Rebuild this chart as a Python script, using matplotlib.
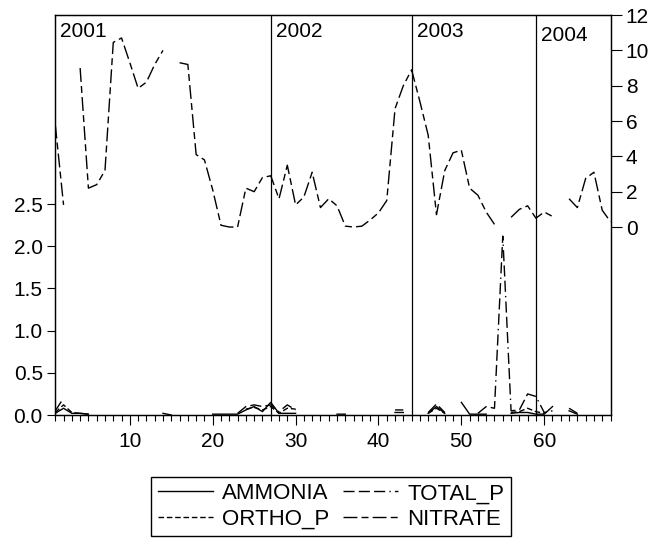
import numpy as np
import matplotlib
matplotlib.use("Agg")
import matplotlib.pyplot as plt
from matplotlib.ticker import MultipleLocator

plt.rcParams["font.family"] = ["Liberation Sans", "DejaVu Sans"]
plt.rcParams["font.size"] = 15

nan = np.nan
obs = np.arange(1, 69)

# values (left axis)
ammonia = [0.02, 0.08, 0.02, 0.02, 0.01, nan, nan, nan, nan, nan,
           nan, nan, nan, 0.02, 0.0, nan, nan, nan, nan, 0.01,
           0.01, 0.01, 0.01, 0.06, 0.10, 0.04, 0.15, 0.02, 0.02, 0.02,
           nan, nan, nan, nan, 0.01, 0.01, nan, nan, 0.01, nan,
           nan, 0.03, 0.03, nan, nan, 0.02, 0.10, 0.02, nan, 0.15,
           0.01, 0.01, 0.01, nan, nan, 0.02, 0.03, 0.03, 0.01, 0.01,
           0.10, nan, 0.05, 0.01, nan, nan, nan, nan]
total_p = [0.05, 0.20, nan, 0.02, 0.01, nan, nan, nan, nan, nan,
           nan, nan, nan, nan, nan, nan, nan, nan, nan, nan,
           nan, nan, 0.02, 0.10, 0.12, 0.10, 0.12, 0.04, 0.12, 0.06,
           nan, nan, nan, nan, nan, nan, nan, nan, nan, nan,
           nan, 0.06, 0.06, nan, nan, 0.03, 0.13, 0.03, nan, nan,
           nan, 0.02, 0.10, 0.08, 2.12, 0.05, 0.06, 0.25, 0.22, 0.03,
           0.05, nan, 0.08, 0.02, nan, nan, nan, nan]
ortho_p = [0.03, 0.12, 0.03, 0.02, nan, nan, nan, nan, nan, nan,
           nan, nan, nan, nan, nan, nan, nan, nan, nan, nan,
           nan, nan, nan, 0.07, 0.09, 0.06, 0.10, 0.02, 0.08, 0.07,
           nan, nan, nan, nan, nan, nan, nan, nan, nan, nan,
           nan, nan, nan, nan, nan, 0.02, 0.08, 0.02, nan, nan,
           nan, nan, 0.05, nan, nan, 0.03, 0.04, 0.08, 0.04, 0.02,
           nan, nan, nan, nan, nan, nan, nan, nan]
# right axis
nitrate = [5.8, 1.25, nan, 9.0, 2.2, 2.4, 3.2, 10.45, 10.7, 9.3,
           7.85, 8.2, 9.2, 10.0, nan, 9.3, 9.2, 4.1, 3.8, 2.1,
           0.1, 0.0, 0.0, 2.2, 2.0, 2.8, 2.9, 1.6, 3.5, 1.25,
           1.7, 3.1, 1.1, 1.6, 1.2, 0.05, 0.0, 0.05, 0.4, 0.8,
           1.5, 6.7, 8.0, 8.9, 7.1, 5.2, 0.7, 3.2, 4.2, 4.35,
           2.2, 1.8, 0.85, 0.15, nan, 0.55, 1.0, 1.2, 0.5, 0.85,
           0.6, nan, 1.6, 1.1, 2.75, 3.1, 0.95, 0.3]

years = ["2001", "2002", "2003", "2004"]
year_start = [1, 27, 44, 59]

fig = plt.figure(figsize=(6.54, 5.42), dpi=100)
ax = fig.add_axes([0.0845, 0.2343, 0.8490, 0.7380])
ax2 = ax.twinx()

l1, = ax.plot(obs, ammonia, color="black", lw=1.0, label="AMMONIA")
l2, = ax.plot(obs, ortho_p, color="black", lw=1.0, ls=(0, (4, 2)), label="ORTHO_P")
l3, = ax.plot(obs, total_p, color="black", lw=1.0, ls=(0, (8, 3, 8, 3, 8, 3, 1, 3)), label="TOTAL_P")
l4, = ax2.plot(obs, nitrate, color="black", lw=1.0, ls=(0, (10, 3, 5, 3)), label="NITRATE")

for i, (yr, s) in enumerate(zip(years, year_start)):
    if i > 0:
        ax.axvline(s, color="black", lw=0.9)
    ax.text(s + 0.6, 0.982 if i < 3 else 0.972, yr, transform=ax.get_xaxis_transform(),
            ha="left", va="top")

ax.set_xlim(1, 68)
ax.set_ylim(0, 4.74)
ax.set_yticks([0.0, 0.5, 1.0, 1.5, 2.0, 2.5])
ax.set_yticklabels(["0.0", "0.5", "1.0", "1.5", "2.0", "2.5"])
ax.xaxis.set_major_locator(MultipleLocator(10))
ax.xaxis.set_minor_locator(MultipleLocator(1))
ax.tick_params(axis="x", which="major", length=7, width=0.8, pad=5)
ax.tick_params(axis="x", which="minor", length=4, width=0.8)
ax.tick_params(axis="y", length=6, width=0.8, pad=3)

ax2.set_ylim(-10.64, 12.0)
ax2.set_yticks(np.arange(0, 13, 2))
ax2.tick_params(axis="y", length=8, width=0.8, pad=3)

for a in (ax, ax2):
    for sp in a.spines.values():
        sp.set_linewidth(0.9)

fig.legend([l1, l2, l3, l4], ["AMMONIA", "ORTHO_P", "TOTAL_P", "NITRATE"],
           ncol=2, loc="center", bbox_to_anchor=(0.506, 0.0655),
           frameon=True, fancybox=False, edgecolor="black", framealpha=1,
           fontsize=16, handlelength=2.5, handletextpad=0.4, columnspacing=0.6,
           borderpad=0.3, labelspacing=0.2)

fig.savefig("out.png", dpi=100)
